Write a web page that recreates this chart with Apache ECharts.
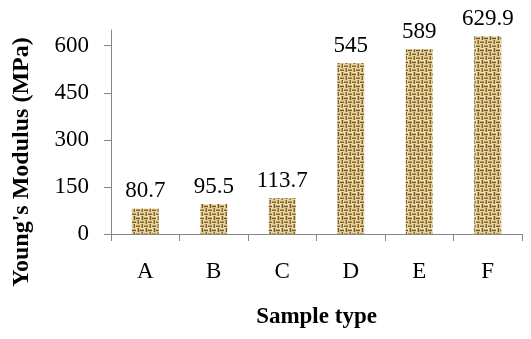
<!DOCTYPE html>
<html>
<head>
<meta charset="utf-8">
<script src="https://cdn.jsdelivr.net/npm/echarts@6/dist/echarts.min.js"></script>
<style>
  html, body { margin: 0; padding: 0; background: #fff; }
  #chart { width: 531px; height: 339px; }
</style>
</head>
<body>
<div id="chart"></div>
<script>
// data
const categories = ['A', 'B', 'C', 'D', 'E', 'F']
const modulus = [80.7, 95.5, 113.7, 545, 589, 629.9]
const yTicks = [0, 150, 300, 450, 600]

// burlap-like weave texture for the bars
function makeWeave () {
  const n = 6
  const cell = 4
  const c = document.createElement('canvas')
  c.width = n * cell
  c.height = n * cell
  const g = c.getContext('2d')
  g.fillStyle = '#9c7f47'
  g.fillRect(0, 0, c.width, c.height)
  for (let by = 0; by < n; by++) {
    for (let bx = 0; bx < n; bx++) {
      const x = bx * cell
      const y = by * cell
      const horiz = ((bx + by) % 2 === 0)
      const shades = ((bx * 3 + by * 5) % 3 === 0)
        ? ['#f2e2b0', '#c8ac72', '#6f5429', '#d9c08a']
        : ['#e6d09a', '#bb9e63', '#80642f', '#ead7a3']
      for (let i = 0; i < cell; i++) {
        g.fillStyle = shades[i]
        if (horiz) g.fillRect(x, y + i, cell, 1)
        else g.fillRect(x + i, y, 1, cell)
      }
    }
  }
  return c
}

const chart = echarts.init(document.getElementById('chart'), null, { renderer: 'canvas' })
const font = '"Liberation Serif", "Times New Roman", serif'

chart.setOption({
  animation: false,
  textStyle: { fontFamily: font },
  grid: { left: 111, right: 9, top: 30, bottom: 105 },
  xAxis: {
    type: 'category',
    data: categories,
    name: 'Sample type',
    nameLocation: 'middle',
    nameGap: 72,
    nameTextStyle: { fontFamily: font, fontSize: 23, fontWeight: 'bold', color: '#000' },
    axisLine: { lineStyle: { color: '#868686', width: 1 } },
    axisTick: { show: true, length: 7, lineStyle: { color: '#868686' } },
    axisLabel: { margin: 26, fontFamily: font, fontSize: 23, color: '#000' }
  },
  yAxis: {
    type: 'value',
    min: 0,
    max: 650,
    splitLine: { show: false },
    axisLine: { show: true, lineStyle: { color: '#868686', width: 1 } },
    axisTick: { show: true, length: 7, customValues: yTicks, lineStyle: { color: '#868686' } },
    axisLabel: { margin: 22, fontFamily: font, fontSize: 23, color: '#000', customValues: yTicks }
  },
  graphic: [{
    type: 'text',
    x: 22,
    y: 162,
    rotation: Math.PI / 2,
    style: {
      text: "Young's Modulus (MPa)",
      font: 'bold 24px ' + font,
      fill: '#000',
      textAlign: 'center',
      textVerticalAlign: 'middle'
    }
  }],
  series: [{
    type: 'bar',
    data: modulus,
    barWidth: 27,
    itemStyle: { color: { image: makeWeave(), repeat: 'repeat' } },
    label: {
      show: true,
      position: 'top',
      distance: 6,
      fontFamily: font,
      fontSize: 23,
      color: '#000'
    }
  }]
})
</script>
</body>
</html>
